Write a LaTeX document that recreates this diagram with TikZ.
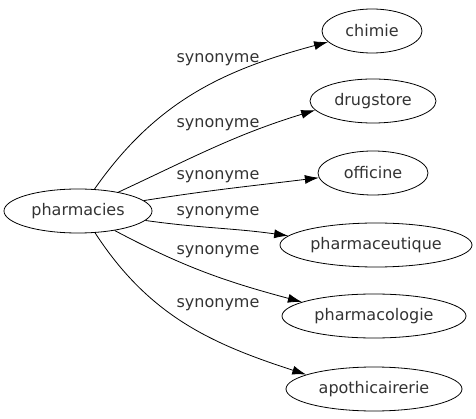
\documentclass[tikz,border=0pt]{standalone}
\usepackage{fontspec}
\setmainfont{DejaVu Sans}
\usepackage{tikz}
\usetikzlibrary{shapes.geometric,arrows.meta}

\begin{document}
\begin{tikzpicture}[->,>={Latex[length=14pt,width=9pt]},x=1pt,y=1pt,line width=0.8pt]

        \tikzstyle{term} = [draw, ellipse, minimum height=44pt, inner sep=0pt, text=black!80, font=\fontsize{16}{19}\selectfont];
        \tikzstyle{syn} = [inner sep=0pt, text=black!80, font=\fontsize{16}{19}\selectfont];

        \useasboundingbox (0,0) rectangle (476,-419);

        \node[term, minimum width=148pt] (ph) at (78,-211) {pharmacies};
        \node[term, minimum width=100pt] (chim) at (372,-31) {chimie};
        \node[term, minimum width=126pt] (drug) at (373,-101) {drugstore};
        \node[term, minimum width=110pt] (offi) at (373,-173) {officine};
        \node[term, minimum width=192pt] (pceu) at (376,-245) {pharmaceutique};
        \node[term, minimum width=184pt] (pcol) at (374,-316) {pharmacologie};
        \node[term, minimum width=176pt] (apot) at (374,-389) {apothicairerie};

        \node[syn] (s1) at (218,-60) {synonyme};
        \node[syn] (s2) at (218,-125) {synonyme};
        \node[syn] (s3) at (218,-177) {synonyme};
        \node[syn] (s4) at (218,-213) {synonyme};
        \node[syn] (s5) at (218,-252) {synonyme};
        \node[syn] (s6) at (218,-305) {synonyme};

        \path
            (ph.53) edge[out=55, in=195] (chim.194)
            (ph.25) edge[out=25, in=197] (drug.189)
            (ph.9) edge[out=9, in=187] (offi.185)
            (ph.-8) edge[out=-8, in=172] (pceu.174)
            (ph.-28) edge[out=-28, in=165] (pcol.169)
            (ph.-52) edge[out=-57, in=162] (apot.168);

    \end{tikzpicture}
\end{document}
